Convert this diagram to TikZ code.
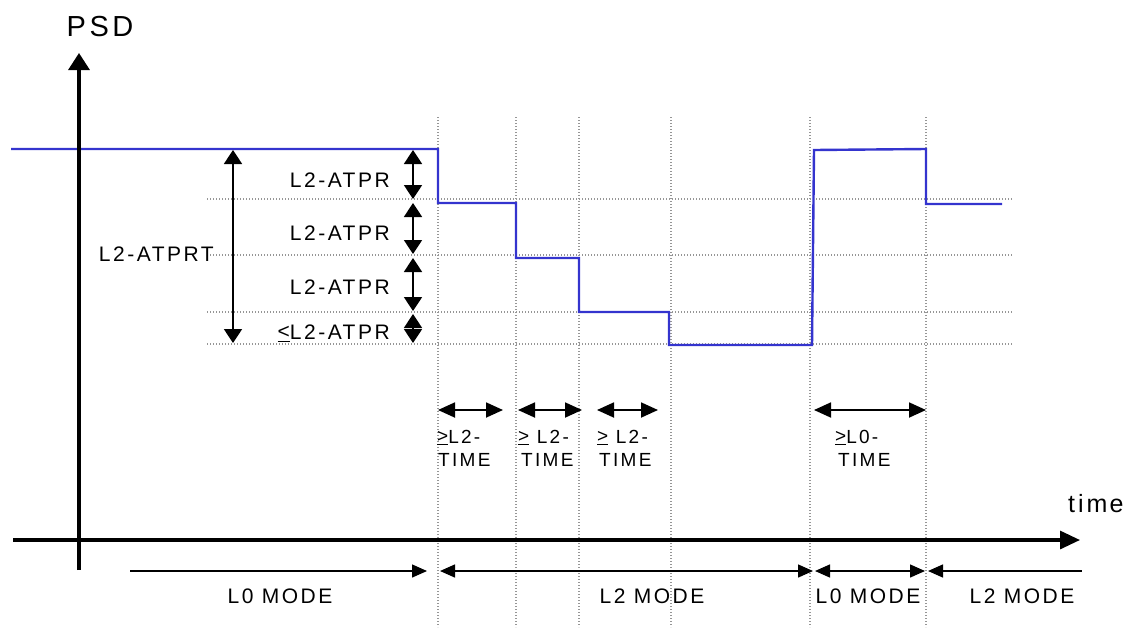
\documentclass[tikz,border=0pt]{standalone}
\usepackage{fontspec}
\setmainfont{Liberation Sans}[LetterSpace=12]
\usetikzlibrary{arrows.meta}
\definecolor{psdblue}{RGB}{52,52,206}
\definecolor{gridgray}{RGB}{150,150,150}
\tikzset{
  mtip/.tip={Triangle[length=15pt,width=13pt]},
  gridline/.style={draw=gridgray, line width=1.1pt, dash pattern=on 1.1pt off 1.9pt},
  profile/.style={draw=psdblue, line width=2.4pt, line join=miter},
  axisline/.style={draw=black, line width=3.2pt},
  dimarrow/.style={draw=black, line width=1.8pt,
    {Triangle[length=14pt,width=18pt]}-{Triangle[length=14pt,width=18pt]}},
  timearrow/.style={draw=black, line width=1.8pt,
    {Triangle[length=17pt,width=15pt]}-{Triangle[length=17pt,width=15pt]}},
  modearrow/.style={draw=black, line width=1.4pt},
  lbl/.style={inner sep=0pt, font=\fontsize{21}{25}\selectfont},
  tlbl/.style={inner sep=0pt, font=\fontsize{19}{23}\selectfont, anchor=base west},
}
% underlined "greater than" as printed in the labels
\newcommand{\gesign}{\underline{\raisebox{0.1ex}{>}}}
\begin{document}
\begin{tikzpicture}[x=1pt, y=-1pt]
\useasboundingbox (0,0) rectangle (1132,630);

% dotted reference grid
\foreach \gx in {438,516,579,671,810,926}
  \draw[gridline] (\gx,117) -- (\gx,627);
\foreach \gy in {199,255,312,344}
  \draw[gridline] (207,\gy) -- (1012,\gy);

% PSD profile over time
\draw[profile] (11,149) -- (438,149) -- (438,203) -- (516,203) -- (516,258)
  -- (579,258) -- (579,312) -- (669,312) -- (669,345) -- (812,345)
  -- (814,150) -- (926,149) -- (926,204) -- (1002,204);

% axes
\coordinate (yb) at (79,570);
\coordinate (yt) at (79,53);
\coordinate (xl) at (13,540);
\coordinate (xr) at (1080,540);
\draw[axisline, -{Triangle[length=17pt,width=21pt]}] (yb) -- (yt);
\draw[axisline, -{Triangle[length=20pt,width=18pt]}] (xl) -- (xr);
\node[lbl, font=\fontsize{29}{33}\selectfont, anchor=base] (psd) at (100,36) {PSD};
\node[lbl, font=\fontsize{25}{29}\selectfont, anchor=base west] (time) at (1068,512) {tim\kern2pt e};

% total reduction
\coordinate (tt) at (233,150);
\coordinate (tb) at (233,343);
\draw[dimarrow] (tt) -- (tb);
\node[lbl, anchor=base east] (atprt) at (214,261.5) {L2-ATPRT};

% per-step reductions
\coordinate (s0) at (413,150);
\coordinate (s1a) at (413,199);
\coordinate (s1b) at (413,203);
\coordinate (s2a) at (413,254);
\coordinate (s2b) at (413,258);
\coordinate (s3a) at (413,311);
\coordinate (s3b) at (413,314);
\coordinate (s4) at (413,343);
\draw[dimarrow] (s0) -- (s1a);
\draw[dimarrow] (s1b) -- (s2a);
\draw[dimarrow] (s2b) -- (s3a);
\draw[dimarrow] (s3b) -- (s4);
\node[lbl, anchor=base east] (r1) at (390,187.5) {L2-ATPR};
\node[lbl, anchor=base east] (r2) at (390,240.5) {L2-ATPR};
\node[lbl, anchor=base east] (r3) at (390,294.5) {L2-ATPR};
\node[lbl, anchor=base east] (r4) at (390,339.5) {\underline{\raisebox{0.1ex}{<}}L2-ATPR};

% minimum dwell times
\coordinate (a1) at (438,410); \coordinate (b1) at (503,410);
\coordinate (a2) at (518,410); \coordinate (b2) at (582,410);
\coordinate (a3) at (597,410); \coordinate (b3) at (658,410);
\coordinate (a4) at (814,410); \coordinate (b4) at (926,410);
\draw[timearrow] (a1) -- (b1);
\draw[timearrow] (a2) -- (b2);
\draw[timearrow] (a3) -- (b3);
\draw[timearrow] (a4) -- (b4);
\node[tlbl] (t1a) at (437,443) {\gesign L2-};
\node[tlbl] (t1b) at (438,466) {TIME};
\node[tlbl] (t2a) at (518,443) {\gesign\ L2-};
\node[tlbl] (t2b) at (521,466) {TIME};
\node[tlbl] (t3a) at (597,443) {\gesign\ L2-};
\node[tlbl] (t3b) at (599,466) {TIME};
\node[tlbl] (t4a) at (835,443) {\gesign L0-};
\node[tlbl] (t4b) at (838,466) {TIME};

% operating modes
\coordinate (m1l) at (130,571); \coordinate (m1r) at (427,571);
\coordinate (m2l) at (440,571); \coordinate (m2r) at (813,571);
\coordinate (m3l) at (815,571); \coordinate (m3r) at (925,571);
\coordinate (m4l) at (928,571); \coordinate (m4r) at (1082,571);
\draw[modearrow, -mtip] (m1l) -- (m1r);
\draw[modearrow, mtip-mtip] (m2l) -- (m2r);
\draw[modearrow, mtip-mtip] (m3l) -- (m3r);
\draw[modearrow, mtip-] (m4l) -- (m4r);
\node[lbl, anchor=base] (mode1) at (280,603) {L0 MODE};
\node[lbl, anchor=base] (mode2) at (652,603) {L2 MODE};
\node[lbl, anchor=base] (mode3) at (868,603) {L0 MODE};
\node[lbl, anchor=base] (mode4) at (1022,603) {L2 MODE};
\end{tikzpicture}
\end{document}
